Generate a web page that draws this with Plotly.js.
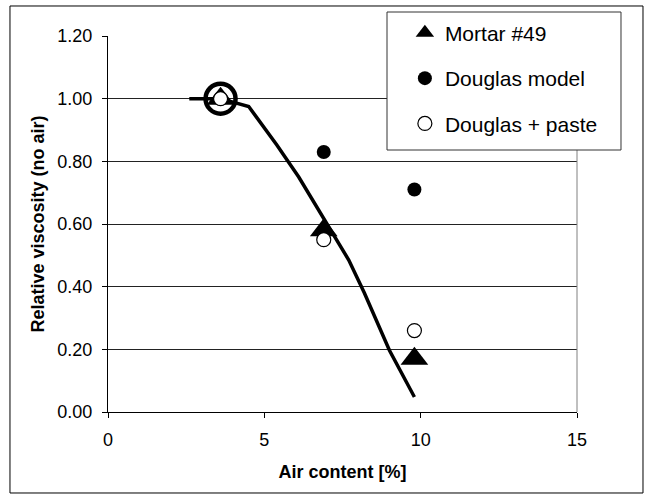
<!DOCTYPE html>
<html>
<head>
<meta charset="utf-8">
<script src="https://cdn.plot.ly/plotly-3.0.1.min.js"></script>
<style>
  html, body { margin: 0; padding: 0; background: #fff; }
  #chart { width: 654px; height: 499px; }
</style>
</head>
<body>
<div id="chart"></div>
<script>
// Measured air content [%] for each mix
const airContent = [3.6, 6.9, 9.8];

// Relative viscosity (normalised to the air-free mix)
const mortar49 = [1.00, 0.58, 0.17];
const douglasModel = [1.00, 0.83, 0.71];
const douglasPaste = [1.00, 0.55, 0.26];

// Fitted curve through the mortar data
const curveAir = [2.6, 3.6, 4.5, 5.4, 6.1, 6.9, 7.7, 8.2, 9.0, 9.8];
const curveVisc = [1.00, 1.00, 0.975, 0.852, 0.75, 0.62, 0.485, 0.38, 0.197, 0.048];

// Reference (air-free) point, circled on the chart
const refAir = [3.6];
const refVisc = [1.00];

const FONT = 'Liberation Sans, Arial, sans-serif';

const traces = [
  {
    x: curveAir, y: curveVisc, type: 'scatter', mode: 'lines',
    line: { color: '#000', width: 3.5 },
    showlegend: false, hoverinfo: 'skip'
  },
  {
    x: airContent, y: mortar49, type: 'scatter', mode: 'markers',
    name: 'Mortar #49', legendgroup: 'a',
    marker: { symbol: 'triangle-up', size: 24, color: '#000' }
  },
  {
    x: airContent, y: douglasModel, type: 'scatter', mode: 'markers',
    name: 'Douglas model', legendgroup: 'b',
    marker: { symbol: 'circle', size: 14, color: '#000' }
  },
  {
    x: airContent, y: douglasPaste, type: 'scatter', mode: 'markers',
    name: 'Douglas + paste', legendgroup: 'c',
    marker: { symbol: 'circle', size: 14, color: '#fff', line: { color: '#000', width: 1.2 } }
  },
  {
    x: refAir, y: refVisc, type: 'scatter', mode: 'markers',
    showlegend: false, hoverinfo: 'skip',
    marker: { symbol: 'circle-open', size: 30, color: '#000', line: { color: '#000', width: 4.5 } }
  }
];

const layout = {
  width: 654, height: 499,
  margin: { l: 108, r: 77, t: 36, b: 87, pad: 0 },
  paper_bgcolor: '#fff', plot_bgcolor: '#fff',
  font: { family: FONT, size: 18, color: '#000' },
  showlegend: true,
  legend: {
    x: 0.633, y: 1.062, xanchor: 'left', yanchor: 'top',
    bgcolor: 'rgba(0,0,0,0)', borderwidth: 0,
    font: { family: FONT, size: 21, color: '#000' },
    tracegroupgap: 15
  },
  xaxis: {
    range: [0, 15], dtick: 5, tick0: 0,
    ticks: 'outside', ticklen: 5, tickcolor: '#000', tickwidth: 1,
    ticklabelstandoff: 6,
    showline: true, linecolor: '#000', linewidth: 1,
    showgrid: false, zeroline: false,
    tickfont: { family: FONT, size: 18 },
    title: { text: 'Air content [%]', font: { family: FONT, size: 18, weight: 'bold' }, standoff: 16 }
  },
  yaxis: {
    range: [0, 1.2], dtick: 0.2, tick0: 0, tickformat: '.2f',
    ticks: 'outside', ticklen: 5, tickcolor: '#000', tickwidth: 1,
    ticklabelstandoff: 6,
    showline: true, linecolor: '#000', linewidth: 1,
    showgrid: true, gridcolor: '#222', gridwidth: 1, zeroline: false,
    tickfont: { family: FONT, size: 18 },
    title: { text: 'Relative viscosity (no air)', font: { family: FONT, size: 18, weight: 'bold' }, standoff: 8 }
  },
  shapes: [
    // right edge of the plot area
    { type: 'line', xref: 'paper', yref: 'paper', x0: 1, x1: 1, y0: 0, y1: 1,
      line: { color: '#808080', width: 1 } },
    // legend box
    { type: 'rect', xref: 'paper', yref: 'paper', layer: 'above',
      x0: 0.5949, x1: 1.0938, y0: 0.6968, y1: 1.0638,
      line: { color: '#333', width: 1 }, fillcolor: '#fff' },
    // chart frame
    { type: 'rect', xref: 'paper', yref: 'paper', x0: -0.209, x1: 1.1407, y0: -0.2154, y1: 1.0798,
      line: { color: '#000', width: 1 }, fillcolor: 'rgba(0,0,0,0)' }
  ]
};

Plotly.newPlot('chart', traces, layout, { displayModeBar: false, staticPlot: true });
</script>
</body>
</html>
